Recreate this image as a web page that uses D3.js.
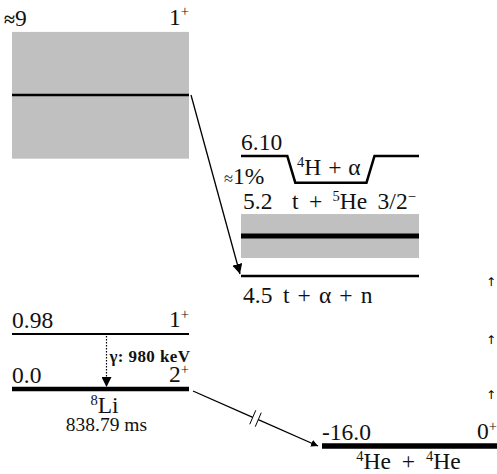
<!DOCTYPE html>
<html><head><meta charset="utf-8">
<script src="https://cdn.jsdelivr.net/npm/d3@7"></script>
<style>
html,body{margin:0;padding:0;background:#fff;}
</style></head>
<body>
<svg id="chart" width="497" height="474"></svg>
<script>
const SERIF = '"Liberation Serif"';
// ---- data ----
const levelEnergies = [9, 6.10, 5.2, 4.5, 0.98, 0.0, -16.0];
const levelLabels   = ["≈9", "6.10", "5.2", "4.5", "0.98", "0.0", "-16.0"];
const levelSpins    = ["1+", "", "", "", "1+", "2+", "0+"];
const levelColumns  = [0, 1, 1, 1, 0, 0, 2];
const levelWeights  = [2.5, 2.5, 5, 2.5, 2, 4.5, 5.5];
const bandLow  = [6.07, null, 4.815, null, null, null, null];
const bandHigh = [12.0, null, 5.447, null, null, null, null];
const troughEnergy = 5.8;
const gammaEnergyKeV = 980;
const halfLife = "838.79 ms";
const branching = "≈1%";

const svg = d3.select("#chart");
const colX = [[12, 189], [241, 419], [322, 497]];
const y = d3.scaleLinear()
  .domain([-16, 0, 0.98, 4.5, 5.2, 6.1, 9])
  .range([446, 389, 334, 276, 236, 156, 95]);
const FS = 23.5;

function txt(size) {
  return svg.append("text").style("font-family", SERIF).attr("font-size", size || FS).attr("fill", "#111");
}
function richText(sel, parts, size) {
  parts.forEach(p => {
    const ts = sel.append("tspan").text(p.t);
    if (p.sup) ts.attr("font-size", size * 0.62).attr("dy", -size * 0.36);
    else if (p.after) ts.attr("dy", size * 0.36);
  });
}
function spinParts(s) { return [{t: s[0]}, {t: s[1] === "-" ? "−" : s[1], sup: true}]; }

// bands
levelEnergies.forEach((e, i) => {
  if (bandLow[i] == null) return;
  const [x0, x1] = colX[levelColumns[i]];
  svg.append("rect").attr("x", x0).attr("width", x1 - x0)
    .attr("y", y(bandHigh[i])).attr("height", y(bandLow[i]) - y(bandHigh[i]))
    .attr("fill", "#c0c0c0");
});

// levels
levelEnergies.forEach((e, i) => {
  const [x0, x1] = colX[levelColumns[i]];
  if (e === 6.10) {
    const w = x1 - x0;
    const pts = [[x0, y(e)], [x0 + w * 0.26, y(e)], [x0 + w * 0.305, y(troughEnergy)],
                 [x0 + w * 0.705, y(troughEnergy)], [x0 + w * 0.75, y(e)], [x1, y(e)]];
    svg.append("path").attr("d", d3.line()(pts)).attr("fill", "none")
      .attr("stroke", "#000").attr("stroke-width", levelWeights[i]);
  } else {
    svg.append("line").attr("x1", x0).attr("x2", x1).attr("y1", y(e)).attr("y2", y(e))
      .attr("stroke", "#000").attr("stroke-width", levelWeights[i]);
  }
});

// energy + spin labels
levelEnergies.forEach((e, i) => {
  const [x0, x1] = colX[levelColumns[i]];
  const top = bandHigh[i] != null && levelColumns[i] === 0 ? y(bandHigh[i]) : y(e);
  const t = txt().attr("y", top - 6);
  if (levelLabels[i].startsWith("≈")) {
    t.attr("x", 4);
    t.append("tspan").text("≈").attr("font-weight", "bold").attr("font-size", FS * 0.85);
    t.append("tspan").text(levelLabels[i].slice(1));
  } else if (e === 5.2) {
    t.attr("x", x0 + 2).attr("y", 209).text(levelLabels[i]);
  } else if (e === 4.5) {
    t.attr("x", x0 + 2).attr("y", y(e) + 27).text(levelLabels[i]);
  } else {
    t.attr("x", x0).text(levelLabels[i]);
  }
  if (levelSpins[i]) {
    const s = txt().attr("x", x1).attr("y", top - 7).attr("text-anchor", "end");
    richText(s, spinParts(levelSpins[i]), FS);
  }
});

// channel labels
const t1 = txt().attr("x", 297).attr("y", 175).attr("word-spacing", 1);
richText(t1, [{t: "4", sup: true}, {t: "H + α", after: true}], FS);
const t2 = txt().attr("x", 292).attr("y", 209).attr("word-spacing", 4.5);
richText(t2, [{t: "t + "}, {t: "5", sup: true}, {t: "He 3/2", after: true}, {t: "−", sup: true}], FS);
txt().attr("x", 283).attr("y", y(4.5) + 27).attr("word-spacing", 2.2).text("t + α + n");

// branching label
const tb = txt().attr("x", 224).attr("y", 184);
tb.append("tspan").text(branching[0]).attr("font-size", FS * 0.7);
tb.append("tspan").text(branching.slice(1));

// markers
const defs = svg.append("defs");
defs.append("marker").attr("id", "ah").attr("viewBox", "0 0 10 10").attr("refX", 10).attr("refY", 5)
  .attr("markerWidth", 7).attr("markerHeight", 7).attr("markerUnits", "userSpaceOnUse")
  .attr("orient", "auto").append("path").attr("d", "M0,0L10,5L0,10Z").attr("fill", "#000");
defs.append("marker").attr("id", "ah2").attr("viewBox", "0 0 10 10").attr("refX", 10).attr("refY", 5)
  .attr("markerWidth", 10).attr("markerHeight", 10).attr("markerUnits", "userSpaceOnUse")
  .attr("orient", "auto").append("path").attr("d", "M0,0L10,5L0,10Z").attr("fill", "#000");

// beta decay through ≈9 MeV state to t+α+n
svg.append("line").attr("x1", colX[0][1] + 2).attr("y1", y(9))
  .attr("x2", colX[1][0] - 1).attr("y2", y(4.5) - 2)
  .attr("stroke", "#000").attr("stroke-width", 1.3).attr("marker-end", "url(#ah2)");

// gamma transition
const gx = (colX[0][0] + colX[0][1]) / 2 + 6;
svg.append("line").attr("x1", gx).attr("x2", gx).attr("y1", y(0.98) + 2).attr("y2", y(0) - 2)
  .attr("stroke", "#000").attr("stroke-width", 1.2).attr("stroke-dasharray", "1.5,1.5")
  .attr("marker-end", "url(#ah2)");
txt(17).attr("x", gx + 3).attr("y", 362).attr("font-weight", "bold")
  .attr("letter-spacing", 0.4).text("γ: " + gammaEnergyKeV + " keV");

// 8Li label
const cx0 = (colX[0][0] + colX[0][1]) / 2 + 4;
const tl = txt().attr("x", cx0).attr("y", 413).attr("text-anchor", "middle");
richText(tl, [{t: "8", sup: true}, {t: "Li", after: true}], FS);
txt(19.5).attr("x", cx0 + 2).attr("y", 431).attr("text-anchor", "middle").text(halfLife);

// ground state decay with axis break
const p0 = [colX[0][1] + 4, y(0) + 2], p1 = [colX[2][0] - 4, y(-16)];
const dx = p1[0] - p0[0], dy = p1[1] - p0[1];
const L = Math.hypot(dx, dy), ux = dx / L, uy = dy / L;
const mid = 0.5, gap = 3;
const ma = [p0[0] + dx * mid - ux * gap, p0[1] + dy * mid - uy * gap];
const mb = [p0[0] + dx * mid + ux * gap, p0[1] + dy * mid + uy * gap];
svg.append("line").attr("x1", p0[0]).attr("y1", p0[1]).attr("x2", ma[0]).attr("y2", ma[1])
  .attr("stroke", "#000").attr("stroke-width", 1.3);
svg.append("line").attr("x1", mb[0]).attr("y1", mb[1]).attr("x2", p1[0]).attr("y2", p1[1])
  .attr("stroke", "#000").attr("stroke-width", 1.3).attr("marker-end", "url(#ah)");
[ma, mb].forEach(m => {
  svg.append("line").attr("x1", m[0] - 3).attr("y1", m[1] + 7).attr("x2", m[0] + 3).attr("y2", m[1] - 7)
    .attr("stroke", "#000").attr("stroke-width", 1);
});

// 4He + 4He label
const t4 = txt().attr("x", (colX[2][0] + colX[2][1]) / 2 - 1).attr("y", 469)
  .attr("text-anchor", "middle").attr("word-spacing", 5);
richText(t4, [{t: "4", sup: true}, {t: "He + ", after: true}, {t: "4", sup: true}, {t: "He", after: true}], FS);

// small marks at right edge
const arrowMarks = [4.5, 0.98, 0.0];
arrowMarks.forEach(e => {
  svg.append("text").attr("x", 491).attr("y", y(e) + 10).attr("font-size", 12)
    .attr("text-anchor", "middle").style("font-family", '"DejaVu Sans"').text("↑");
});
</script>
</body></html>
